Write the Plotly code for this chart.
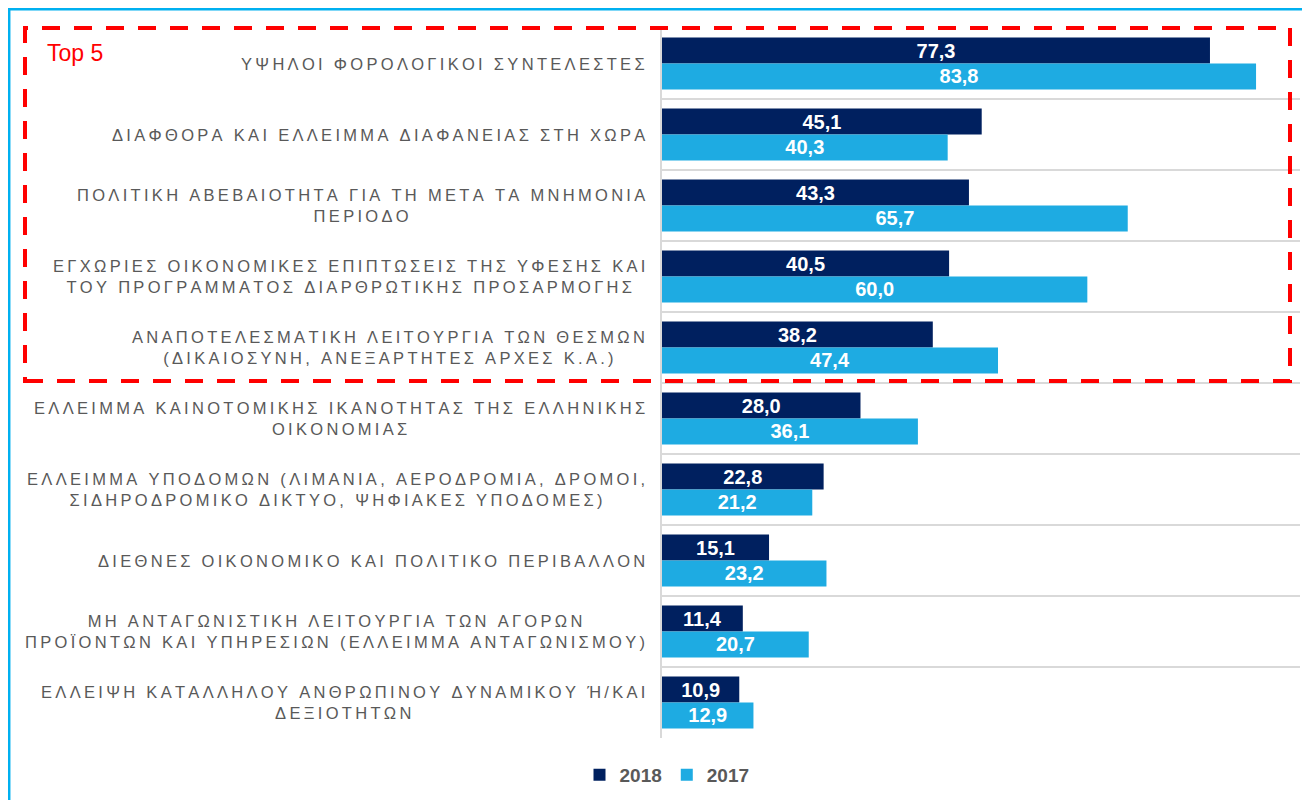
import plotly.graph_objects as go

# ---- data ----
categories = [
    "ΥΨΗΛΟΙ ΦΟΡΟΛΟΓΙΚΟΙ ΣΥΝΤΕΛΕΣΤΕΣ",
    "ΔΙΑΦΘΟΡΑ ΚΑΙ ΕΛΛΕΙΜΜΑ ΔΙΑΦΑΝΕΙΑΣ ΣΤΗ ΧΩΡΑ",
    "ΠΟΛΙΤΙΚΗ ΑΒΕΒΑΙΟΤΗΤΑ ΓΙΑ ΤΗ ΜΕΤΑ ΤΑ ΜΝΗΜΟΝΙΑ<br>ΠΕΡΙΟΔΟ",
    "ΕΓΧΩΡΙΕΣ ΟΙΚΟΝΟΜΙΚΕΣ ΕΠΙΠΤΩΣΕΙΣ ΤΗΣ ΥΦΕΣΗΣ ΚΑΙ<br>ΤΟΥ ΠΡΟΓΡΑΜΜΑΤΟΣ ΔΙΑΡΘΡΩΤΙΚΗΣ ΠΡΟΣΑΡΜΟΓΗΣ",
    "ΑΝΑΠΟΤΕΛΕΣΜΑΤΙΚΗ ΛΕΙΤΟΥΡΓΙΑ ΤΩΝ ΘΕΣΜΩΝ<br>(ΔΙΚΑΙΟΣΥΝΗ, ΑΝΕΞΑΡΤΗΤΕΣ ΑΡΧΕΣ Κ.Α.)",
    "ΕΛΛΕΙΜΜΑ ΚΑΙΝΟΤΟΜΙΚΗΣ ΙΚΑΝΟΤΗΤΑΣ ΤΗΣ ΕΛΛΗΝΙΚΗΣ<br>ΟΙΚΟΝΟΜΙΑΣ",
    "ΕΛΛΕΙΜΜΑ ΥΠΟΔΟΜΩΝ (ΛΙΜΑΝΙΑ, ΑΕΡΟΔΡΟΜΙΑ, ΔΡΟΜΟΙ,<br>ΣΙΔΗΡΟΔΡΟΜΙΚΟ ΔΙΚΤΥΟ, ΨΗΦΙΑΚΕΣ ΥΠΟΔΟΜΕΣ)",
    "ΔΙΕΘΝΕΣ ΟΙΚΟΝΟΜΙΚΟ ΚΑΙ ΠΟΛΙΤΙΚΟ ΠΕΡΙΒΑΛΛΟΝ",
    "ΜΗ ΑΝΤΑΓΩΝΙΣΤΙΚΗ ΛΕΙΤΟΥΡΓΙΑ ΤΩΝ ΑΓΟΡΩΝ<br>ΠΡΟΪΟΝΤΩΝ ΚΑΙ ΥΠΗΡΕΣΙΩΝ (ΕΛΛΕΙΜΜΑ ΑΝΤΑΓΩΝΙΣΜΟΥ)",
    "ΕΛΛΕΙΨΗ ΚΑΤΑΛΛΗΛΟΥ ΑΝΘΡΩΠΙΝΟΥ ΔΥΝΑΜΙΚΟΥ Ή/ΚΑΙ<br>ΔΕΞΙΟΤΗΤΩΝ",
]
values_2018 = [77.3, 45.1, 43.3, 40.5, 38.2, 28.0, 22.8, 15.1, 11.4, 10.9]
values_2017 = [83.8, 40.3, 65.7, 60.0, 47.4, 36.1, 21.2, 23.2, 20.7, 12.9]
series_names = ["2018", "2017"]
highlight_label = "Top 5"

# ---- styling ----
NAVY = "#00205F"
LIGHT = "#1EABE2"
GRAY_TXT = "#595959"
GRID = "#D9D9D9"
FONT = "Liberation Sans, Arial, sans-serif"

OFF = 8  # page body margin
W, H = 1310, 800
ML, MR, MT, MB = 662 - OFF, W - (1300 - OFF), 28 - OFF, H - (738 - OFF)
PW, PH = W - ML - MR, H - MT - MB


def px_x(px):
    return (px - OFF - ML) / PW


def px_y(py):
    return (H - MB - (py - OFF)) / PH


def track(s):
    return "<br>".join("\u2009".join(list(line)) for line in s.split("<br>"))


fig = go.Figure()
for name, vals, col in [(series_names[0], values_2018, NAVY), (series_names[1], values_2017, LIGHT)]:
    fig.add_trace(go.Bar(
        y=categories, x=vals, name=name, orientation="h",
        marker=dict(color=col, line=dict(width=0)),
        texttemplate="%{x:.1f}", textposition="inside", insidetextanchor="middle",
        textfont=dict(color="white", size=20, family=FONT, weight="bold"),
        constraintext="none", cliponaxis=False,
    ))

annotations = []
for c in categories:
    annotations.append(dict(
        x=0, xref="paper", y=c, yref="y", xanchor="right", yanchor="middle",
        xshift=-15, align="center", showarrow=False, text=track(c),
        font=dict(size=16.5, color=GRAY_TXT, family=FONT),
    ))
annotations.append(dict(
    x=px_x(45), xref="paper", y=px_y(53), yref="paper", xanchor="left", yanchor="middle",
    showarrow=False, text=highlight_label, font=dict(size=23, color="#FF0000", family=FONT),
))

shapes = [
    # outer light-blue frame (drawn at the page's left/top edge)
    dict(type="rect", xref="paper", yref="paper",
         x0=px_x(OFF + 1.2), x1=px_x(1340), y0=px_y(830), y1=px_y(OFF + 1.2),
         line=dict(color="#00B0F0", width=2.5), fillcolor="rgba(0,0,0,0)", layer="above"),
    # red dashed highlight box
    dict(type="rect", xref="paper", yref="paper",
         x0=px_x(25), x1=px_x(1290), y0=px_y(381), y1=px_y(28),
         line=dict(color="#FF0000", width=4, dash="18px,14px"),
         fillcolor="rgba(0,0,0,0)", layer="above"),
]

fig.update_layout(
    width=W, height=H,
    margin=dict(l=ML, r=MR, t=MT, b=MB),
    paper_bgcolor="white", plot_bgcolor="white",
    barmode="group", bargap=0.27, bargroupgap=0,
    separators=",.",
    font=dict(family=FONT, color=GRAY_TXT),
    showlegend=True,
    legend=dict(orientation="h", xref="container", yref="container",
                x=(667 - OFF) / W, xanchor="center", y=1 - (775 - OFF) / H, yanchor="middle",
                font=dict(size=19, color=GRAY_TXT, family=FONT, weight="bold"),
                itemwidth=30, traceorder="normal"),
    annotations=annotations,
    shapes=shapes,
)
fig.update_xaxes(range=[0, 90], visible=False, fixedrange=True)
fig.update_yaxes(type="category", categoryorder="array", categoryarray=categories,
                 autorange="reversed", tickson="boundaries", showgrid=True,
                 gridcolor=GRID, gridwidth=1.5, showline=True, linecolor=GRID,
                 linewidth=1.5, ticks="", showticklabels=False, zeroline=False)

fig.write_html("out.html")
